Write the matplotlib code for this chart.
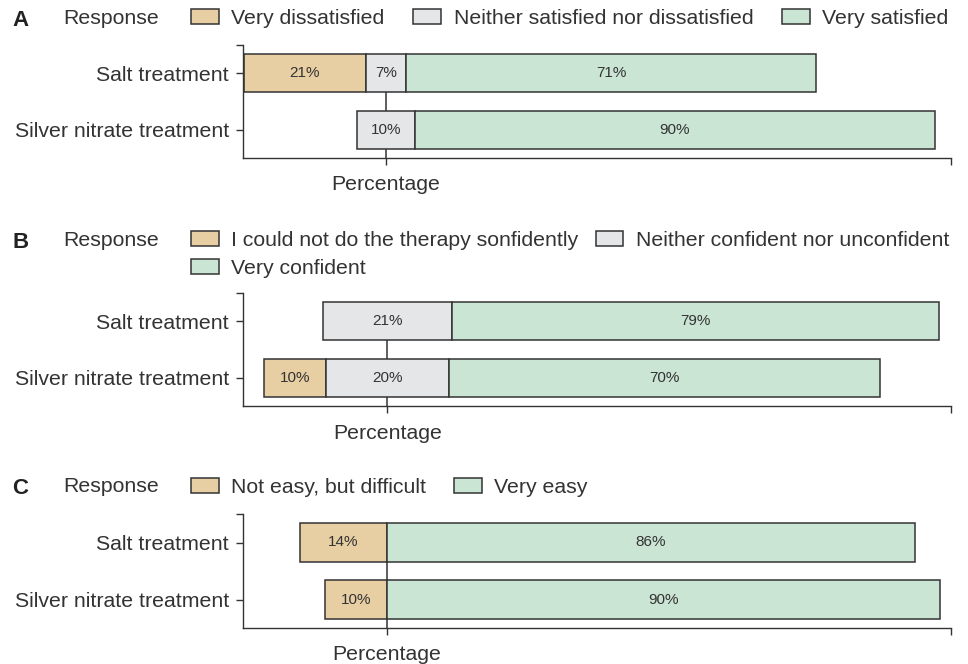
import matplotlib.pyplot as plt
from matplotlib.patches import Patch
from matplotlib.transforms import blended_transform_factory

plt.rcParams['font.family'] = ['Liberation Sans', 'DejaVu Sans']

groups = ['Salt treatment', 'Silver nitrate treatment']

# A - satisfaction
a_labels = ['Very dissatisfied', 'Neither satisfied nor dissatisfied', 'Very satisfied']
a_neg = [21, 0]
a_mid = [7, 10]
a_pos = [71, 90]

# B - confidence
b_labels = ['I could not do the therapy sonfidently', 'Neither confident nor unconfident', 'Very confident']
b_neg = [0, 10]
b_mid = [21, 20]
b_pos = [79, 70]

# C - ease
c_labels = ['Not easy, but difficult', None, 'Very easy']
c_neg = [14, 10]
c_mid = [0, 0]
c_pos = [86, 90]

colors = ['#e8cfa3', '#e5e6e8', '#cbe5d5']
edge = '#333333'
txt = '#333333'

W, H = 968, 664
fig = plt.figure(figsize=(W / 100, H / 100), dpi=100)


def px(x, y):
    return x / W, 1 - y / H


panels = [
    # letter, labels, neg, mid, pos, xlim, axis top/bottom px, legend row y, colspacing
    ('A', a_labels, a_neg, a_mid, a_pos, (-24.7, 97.8), (45, 158), 18, 1.35),
    ('B', b_labels, b_neg, b_mid, b_pos, (-23.4, 91.45), (293, 406), 240, 0.8),
    ('C', c_labels, c_neg, c_mid, c_pos, (-23.35, 91.8), (514, 628), 487, 1.3),
]

fs = 15.3
ypos = [1, 0]
for letter, labels, neg, mid, pos, xlim, (top, bot), ly, colsp in panels:
    left, b = px(243, bot)
    ax = fig.add_axes([left, b, 708 / W, (bot - top) / H])

    ax.plot([0, 0], [-0.5, 1], color=edge, lw=1.1, zorder=1)
    for y, n, m, p in zip(ypos, neg, mid, pos):
        segs = [(-m / 2 - n, n, colors[0]), (-m / 2, m, colors[1]), (m / 2, p, colors[2])]
        for start, w, c in segs:
            if w == 0:
                continue
            ax.barh(y, w, left=start, height=0.667, color=c, edgecolor=edge,
                    linewidth=1.1, zorder=2)
            ax.text(start + w / 2, y, f'{w}%', ha='center', va='center',
                    fontsize=11, color=txt, zorder=3)

    ax.set_xlim(*xlim)
    ax.set_ylim(-0.5, 1.5)
    ax.set_xticks([0, xlim[1]])
    ax.set_xticklabels(['', ''])
    ax.set_yticks([0, 1, 1.5])
    ax.set_yticklabels(['Silver nitrate treatment', 'Salt treatment', ''])
    ax.tick_params(axis='both', direction='out', length=5, width=1.0, color=edge,
                   labelsize=fs, labelcolor=txt, pad=5)
    for s in ['top', 'right']:
        ax.spines[s].set_visible(False)
    for s in ['left', 'bottom']:
        ax.spines[s].set_color(edge)
        ax.spines[s].set_linewidth(1.0)

    tr = blended_transform_factory(ax.transData, ax.transAxes)
    ax.text(0, -27 / (bot - top), 'Percentage', transform=tr, ha='center',
            va='center', fontsize=fs, color=txt)

    # legend row
    fig.text(*px(12, ly + 2), letter, fontsize=16, fontweight='bold', color='#222222',
             va='center', ha='left')
    fig.text(*px(63, ly), 'Response', fontsize=fs, color=txt, va='center', ha='left')
    handles = [Patch(facecolor=c, edgecolor=edge, linewidth=1.1, label=l)
               for c, l in zip(colors, labels) if l is not None]
    if letter == 'B':
        handles = [handles[0], handles[2], handles[1]]
        ncol = 2
    else:
        ncol = len(handles)
    fig.legend(handles=handles, loc='upper left', bbox_to_anchor=px(191, ly - 9),
               ncol=ncol, frameon=False, fontsize=fs, handlelength=1.3,
               handleheight=0.65, handletextpad=0.6, columnspacing=colsp,
               borderpad=0, borderaxespad=0, labelspacing=0.42, labelcolor=txt)

fig.savefig('out.png', dpi=100)
